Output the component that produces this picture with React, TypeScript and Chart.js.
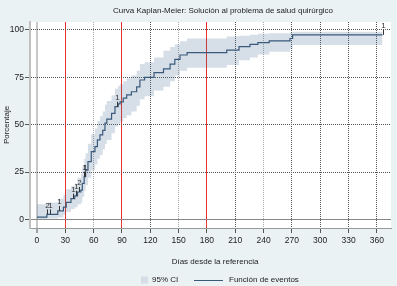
import React, { useEffect, useRef } from 'react';
import { Chart, registerables } from 'chart.js';

Chart.register(...registerables);

const chartTitle = 'Curva Kaplan-Meier: Solución al problema de salud quirúrgico';
const xAxisTitle = 'Días desde la referencia';
const yAxisTitle = 'Porcentaje';
const ciLabel = '95% CI';
const lineLabel = 'Función de eventos';

const xTicks = [0, 30, 60, 90, 120, 150, 180, 210, 240, 270, 300, 330, 360];
const yTicks = [0, 25, 50, 75, 100];
const redLineDays = [30, 90, 180];
const lightDottedDays = [60, 150, 240];

const stepDays = [0, 10.5, 22, 28, 31, 36, 40, 43, 46.5, 48, 50, 51.5, 54, 57.5, 61.4, 64, 66.7, 69.6, 72, 74, 79, 82.6, 86, 88, 91.4, 95, 100, 105.6, 109, 114, 124, 134, 141, 146, 151.5, 159, 201, 214, 225.6, 234, 246, 268, 270.8, 366];
const eventPct = [1.2, 2.7, 4.5, 6.5, 9, 11, 12.5, 14.5, 15.5, 19, 22.6, 26, 30.5, 35.8, 38.4, 42, 44.6, 47, 50.8, 52.9, 56, 59.5, 61, 62, 64, 65.7, 67.4, 70, 73.6, 75, 77.5, 79.5, 82, 84.5, 86.8, 88, 89.4, 91.2, 92.4, 93.3, 94.2, 95.5, 97.4, 97.4];
const ciLower = [0.2, 0.5, 1, 2.5, 4, 5.5, 6.5, 8, 9, 12, 15, 18, 22, 26, 29, 32, 34, 37, 40, 42, 45.5, 49, 50.5, 51.5, 53.5, 55, 57, 60, 63.5, 65, 68, 70, 73, 76, 78.5, 80, 81.5, 84, 85.5, 87, 88.5, 90, 92, 92];
const ciUpper = [8, 9, 11, 13, 16, 17.5, 19, 22, 24, 28, 32, 35, 40, 45, 48, 52, 54.5, 57, 60.5, 62.5, 65.5, 69, 70.5, 71.5, 73, 74.5, 76, 78.5, 82, 83, 85.5, 89, 91, 92.5, 94, 95.5, 96.5, 97, 97.5, 98, 98.3, 98.5, 99, 99];

const censorDays = [10.5, 14, 23.5, 38.5, 41.3, 44.8, 50, 51.2, 84.4, 366];
const censorCounts = [2, 1, 1, 1, 1, 2, 1, 1, 1, 1];

const FONT = '"Liberation Sans", Arial, Helvetica, sans-serif';
const LINE_COLOR = '#3a5a7c';
const BAND_FILL = 'rgba(70,105,145,0.22)';
const BAND_SWATCH = '#d7dee6';
const TEXT_COLOR = '#222222';

function valueAt(day: number): number {
  let v = eventPct[0];
  for (let i = 0; i < stepDays.length; i++) {
    if (stepDays[i] <= day) v = eventPct[i];
  }
  return v;
}

const bgPlugin = {
  id: 'bgPlugin',
  beforeDraw(chart: any) {
    const { ctx, chartArea: a, width, height } = chart;
    ctx.save();
    ctx.fillStyle = '#eaf2f3';
    ctx.fillRect(0, 0, width, height);
    ctx.fillStyle = '#ffffff';
    ctx.fillRect(a.left, a.top, a.right - a.left, a.bottom - a.top);
    ctx.restore();
  },
};

const censorPlugin = {
  id: 'censorPlugin',
  afterDatasetsDraw(chart: any) {
    const { ctx } = chart;
    const xs = chart.scales.x;
    const ys = chart.scales.y;
    ctx.save();
    ctx.strokeStyle = '#333333';
    ctx.fillStyle = '#333333';
    ctx.lineWidth = 1;
    ctx.font = `8px ${FONT}`;
    ctx.textAlign = 'center';
    ctx.textBaseline = 'bottom';
    censorDays.forEach((d, i) => {
      const px = Math.round(xs.getPixelForValue(d)) + 0.5;
      const py = ys.getPixelForValue(valueAt(d));
      ctx.beginPath();
      ctx.moveTo(px, py);
      ctx.lineTo(px, py - 5);
      ctx.stroke();
      ctx.fillText(String(censorCounts[i]), px, py - 5);
    });
    ctx.restore();
  },
};

const textPlugin = {
  id: 'textPlugin',
  afterDraw(chart: any) {
    const { ctx } = chart;
    ctx.save();
    ctx.fillStyle = TEXT_COLOR;
    ctx.font = `8px ${FONT}`;
    ctx.textBaseline = 'middle';
    ctx.textAlign = 'center';
    ctx.fillText(chartTitle, 223, 11);
    ctx.fillText(xAxisTitle, 215, 262);
    // legend
    const cy = 280;
    ctx.fillStyle = BAND_SWATCH;
    ctx.fillRect(141, cy - 3.5, 7, 7);
    ctx.fillStyle = TEXT_COLOR;
    ctx.textAlign = 'left';
    ctx.fillText(ciLabel, 152, cy);
    ctx.strokeStyle = LINE_COLOR;
    ctx.lineWidth = 1;
    ctx.beginPath();
    ctx.moveTo(194, cy + 0.5);
    ctx.lineTo(223, cy + 0.5);
    ctx.stroke();
    ctx.fillText(lineLabel, 229, cy);
    ctx.restore();
  },
};

function xGridColor(v: number): string {
  if (v === 0) return '#c8c8c8';
  if (redLineDays.includes(v)) return '#e8322b';
  if (lightDottedDays.includes(v)) return '#a8a8a8';
  return '#555555';
}

export default function App() {
  const canvasRef = useRef<HTMLCanvasElement | null>(null);

  useEffect(() => {
    document.body.style.margin = '0';
    if (!canvasRef.current) return;
    const pts = (vals: number[]) => stepDays.map((d, i) => ({ x: d, y: vals[i] }));
    const chart = new Chart(canvasRef.current, {
      type: 'line',
      data: {
        datasets: [
          {
            label: lineLabel,
            data: pts(eventPct),
            borderColor: LINE_COLOR,
            borderWidth: 1.2,
            pointRadius: 0,
            stepped: true,
            fill: false,
          },
          {
            label: ciLabel,
            data: pts(ciUpper),
            borderWidth: 0,
            borderColor: 'rgba(0,0,0,0)',
            backgroundColor: BAND_FILL,
            pointRadius: 0,
            stepped: true,
            fill: '+1',
          },
          {
            label: 'lower',
            data: pts(ciLower),
            borderWidth: 0,
            borderColor: 'rgba(0,0,0,0)',
            pointRadius: 0,
            stepped: true,
            fill: false,
          },
        ],
      },
      options: {
        animation: false,
        responsive: false,
        maintainAspectRatio: false,
        events: [],
        layout: { padding: { top: 22, right: 6, bottom: 16, left: 0 } },
        plugins: {
          legend: { display: false },
          title: { display: false },
          tooltip: { enabled: false },
        },
        scales: {
          x: {
            type: 'linear',
            min: -7.4,
            max: 375,
            afterBuildTicks: (ax: any) => {
              ax.ticks = xTicks.map((v) => ({ value: v }));
            },
            afterFit: (s: any) => {
              s.height = 42;
            },
            ticks: {
              font: { family: FONT, size: 8.5 },
              color: TEXT_COLOR,
              padding: 3,
              maxRotation: 0,
              autoSkip: false,
              callback: (v: any) => String(v),
            },
            grid: {
              color: (c: any) => xGridColor(c.tick ? c.tick.value : -1),
              lineWidth: (c: any) => (c.tick && c.tick.value === 0 ? 2 : 1),
              tickColor: '#555555',
              tickLength: 5,
              tickWidth: 1,
            },
            border: {
              display: true,
              color: '#999999',
              width: 1,
              dash: (c: any) => {
                if (!c.tick) return [];
                const v = c.tick.value;
                if (v === 0 || redLineDays.includes(v)) return [];
                return [1, 1];
              },
            },
          },
          y: {
            type: 'linear',
            min: -4.5,
            max: 104.2,
            afterBuildTicks: (ax: any) => {
              ax.ticks = yTicks.map((v) => ({ value: v }));
            },
            afterFit: (s: any) => {
              s.width = 30;
            },
            title: {
              display: true,
              text: yAxisTitle,
              font: { family: FONT, size: 8 },
              color: TEXT_COLOR,
              padding: { top: 2, bottom: 0 },
            },
            ticks: {
              font: { family: FONT, size: 8.5 },
              color: TEXT_COLOR,
              padding: 1,
              callback: (v: any) => String(v),
            },
            grid: {
              color: (c: any) => (c.tick && c.tick.value === 0 ? '#888888' : '#555555'),
              lineWidth: 1,
              tickColor: '#555555',
              tickLength: 5,
              tickWidth: 1,
            },
            border: {
              display: true,
              color: '#c0c0c0',
              width: 2,
              dash: (c: any) => {
                if (!c.tick) return [];
                return c.tick.value === 0 ? [] : [1, 1];
              },
            },
          },
        },
      },
      plugins: [bgPlugin, censorPlugin, textPlugin],
    } as any);
    return () => chart.destroy();
  }, []);

  return (
    <div style={{ width: 397, height: 286 }}>
      <canvas ref={canvasRef} width={397} height={286} style={{ display: 'block' }} />
    </div>
  );
}
